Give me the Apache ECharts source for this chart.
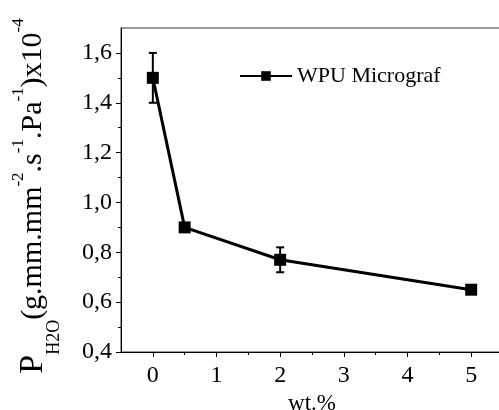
<!DOCTYPE html>
<html>
<head>
<meta charset="utf-8">
<script src="https://cdn.jsdelivr.net/npm/echarts@6/dist/echarts.min.js"></script>
<style>
  html, body { margin: 0; padding: 0; background: #fff; }
  #chart { width: 499px; height: 410px; }
</style>
</head>
<body>
<div id="chart"></div>
<script>
// WPU Micrograf permeability vs filler content
var loadings = [0, 0.5, 2, 5];
var permeability = [1.5, 0.9, 0.77, 0.65];
var errors = [0.1, 0.01, 0.05, 0.01];
var xTicks = [0, 1, 2, 3, 4, 5];
var xMinorTicks = [0.5, 1.5, 2.5, 3.5, 4.5];
var yTicks = [0.4, 0.6, 0.8, 1.0, 1.2, 1.4, 1.6];
var yMinorTicks = [0.5, 0.7, 0.9, 1.1, 1.3, 1.5];

var font = 'Liberation Serif';
var chart = echarts.init(document.getElementById('chart'));

var lineData = loadings.map(function (x, i) { return [x, permeability[i]]; });
var errData = loadings.map(function (x, i) {
  return [x, permeability[i] - errors[i], permeability[i] + errors[i]];
});

chart.setOption({
  animation: false,
  grid: {
    left: 121, top: 28, right: -4, bottom: 58,
    outerBoundsMode: 'none', containLabel: false,
    show: true, borderColor: '#333', borderWidth: 1
  },
  legend: {
    left: 234, top: 60,
    itemWidth: 52, itemHeight: 12, itemGap: 6,
    textStyle: { fontFamily: font, fontSize: 22, color: '#000' },
    data: ['WPU Micrograf']
  },
  xAxis: [{
    type: 'value', min: -0.5, max: 5.5,
    name: 'wt.%', nameLocation: 'middle', nameGap: 36,
    nameTextStyle: { fontFamily: font, fontSize: 23, color: '#000' },
    axisLine: { show: true, onZero: false, lineStyle: { color: '#000', width: 1 } },
    axisTick: { show: true, customValues: xTicks, length: 5, lineStyle: { color: '#000' } },
    axisLabel: { customValues: xTicks, margin: 12, fontFamily: font, fontSize: 24, color: '#000' },
    splitLine: { show: false }
  }, {
    type: 'value', min: -0.5, max: 5.5, position: 'bottom', offset: 0,
    axisLine: { show: false, onZero: false },
    axisTick: { show: true, customValues: xMinorTicks, length: 3, lineStyle: { color: '#000' } },
    axisLabel: { show: false },
    splitLine: { show: false }
  }],
  yAxis: [{
    type: 'value', min: 0.4, max: 1.7,
    axisLine: { show: true, onZero: false, lineStyle: { color: '#000', width: 1 } },
    axisTick: { show: true, customValues: yTicks, length: 5, lineStyle: { color: '#000' } },
    axisLabel: {
      customValues: yTicks, margin: 9,
      fontFamily: font, fontSize: 24, color: '#000',
      formatter: function (v) { return v.toFixed(1).replace('.', ','); }
    },
    splitLine: { show: false }
  }, {
    type: 'value', min: 0.4, max: 1.7, position: 'left',
    axisLine: { show: false, onZero: false },
    axisTick: { show: true, customValues: yMinorTicks, length: 3, lineStyle: { color: '#000' } },
    axisLabel: { show: false },
    splitLine: { show: false }
  }],
  graphic: [{
    type: 'text',
    x: 33, y: 196,
    rotation: Math.PI / 2,
    style: {
      text: '{big|P}{sub|H2O}{m|(g.mm.mm}{sup|-2}{m|.s}{sup|-1}{m|.Pa}{sup|-1}{m|)x10}{sup|-4}',
      align: 'center', verticalAlign: 'middle',
      fill: '#000',
      rich: {
        big: { fontFamily: font, fontSize: 34, lineHeight: 60, verticalAlign: 'middle' },
        m: { fontFamily: font, fontSize: 30, lineHeight: 60, verticalAlign: 'middle' },
        sub: { fontFamily: font, fontSize: 18, lineHeight: 18, verticalAlign: 'bottom' },
        sup: { fontFamily: font, fontSize: 17, lineHeight: 17, verticalAlign: 'top', padding: [7, 0, 0, 0] }
      }
    }
  }],
  series: [{
    name: 'WPU Micrograf',
    type: 'line',
    data: lineData,
    symbol: 'rect', symbolSize: 12,
    lineStyle: { color: '#000', width: 3 },
    itemStyle: { color: '#000' },
    z: 3
  }, {
    type: 'custom',
    data: errData,
    z: 2,
    renderItem: function (params, api) {
      var x = api.value(0);
      var lo = api.coord([x, api.value(1)]);
      var hi = api.coord([x, api.value(2)]);
      var w = 4;
      var s = { stroke: '#000', lineWidth: 2 };
      return {
        type: 'group',
        children: [
          { type: 'line', shape: { x1: lo[0], y1: lo[1], x2: hi[0], y2: hi[1] }, style: s },
          { type: 'line', shape: { x1: lo[0] - w, y1: lo[1], x2: lo[0] + w, y2: lo[1] }, style: s },
          { type: 'line', shape: { x1: hi[0] - w, y1: hi[1], x2: hi[0] + w, y2: hi[1] }, style: s }
        ]
      };
    }
  }]
});
</script>
</body>
</html>
